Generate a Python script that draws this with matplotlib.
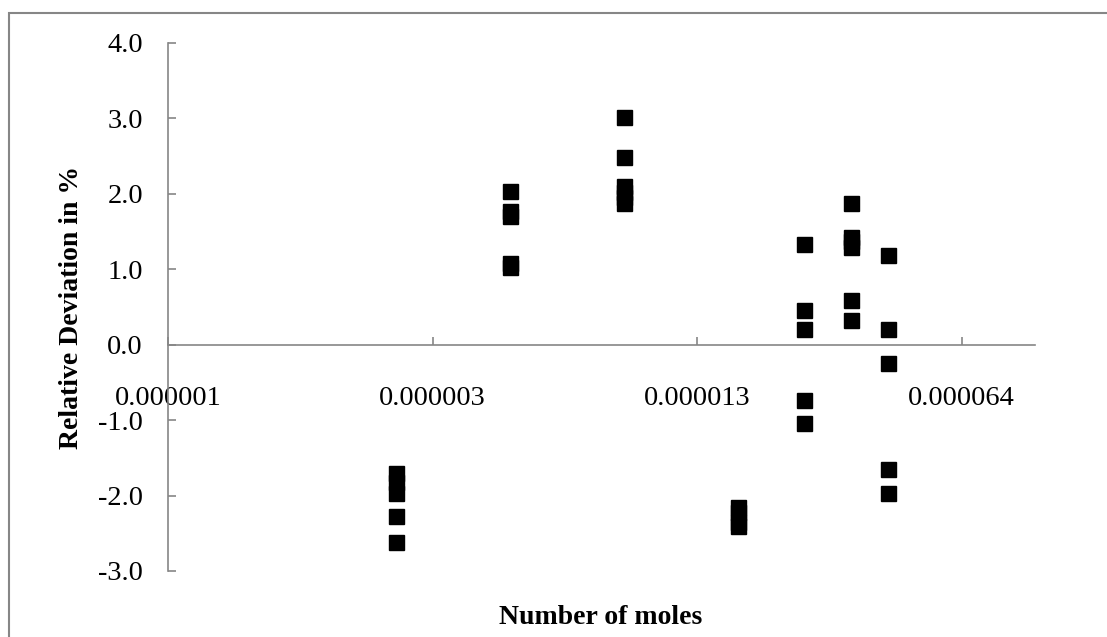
import matplotlib
matplotlib.use("Agg")
import matplotlib.pyplot as plt
from matplotlib.ticker import FixedLocator, FuncFormatter, NullLocator
from matplotlib.patches import Rectangle

# amount of substance (mol) for each measurement and its relative deviation (%)
x_moles = ([2.05e-6] * 5 + [4.1e-6] * 5 + [8.2e-6] * 6 + [16.4e-6] * 4
           + [24.5e-6] * 5 + [32.7e-6] * 6 + [41.0e-6] * 5)
rel_dev = [-1.70, -1.82, -1.97, -2.27, -2.61,
           2.03, 1.77, 1.71, 1.08, 1.03,
           3.01, 2.49, 2.10, 2.02, 1.95, 1.88,
           -2.15, -2.22, -2.35, -2.40,
           1.33, 0.46, 0.20, -0.74, -1.04,
           1.87, 1.42, 1.37, 1.29, 0.59, 0.33,
           1.19, 0.21, -0.25, -1.65, -1.97]

x_ticks = [0.512e-6, 2.56e-6, 12.8e-6, 64e-6]
y_ticks = [-3, -2, -1, 0, 1, 2, 3, 4]

plt.rcParams['font.family'] = ['Liberation Serif', 'DejaVu Serif']
plt.rcParams['axes.unicode_minus'] = False

fig = plt.figure(figsize=(11.07, 6.37), dpi=100)
ax = fig.add_axes([168 / 1107, 1 - 571 / 637, (1035 - 168) / 1107, (571 - 42.7) / 637])

ax.plot(x_moles, rel_dev, ls='none', marker='s', ms=10.8, color='black')

grey = '#868686'
ax.set_xscale('log', base=5)
ax.set_xlim(0.512e-6, 1e-4)
ax.set_ylim(-3, 4)
ax.xaxis.set_major_locator(FixedLocator(x_ticks))
ax.xaxis.set_minor_locator(NullLocator())
ax.xaxis.set_major_formatter(FuncFormatter(lambda v, p: f"{v:.6f}"))
ax.set_yticks(y_ticks)
ax.yaxis.set_major_formatter(FuncFormatter(lambda v, p: f"{v:.1f}"))

for s in ('top', 'right'):
    ax.spines[s].set_visible(False)
ax.spines['bottom'].set_position(('data', 0))
for s in ('left', 'bottom'):
    ax.spines[s].set_color(grey)
    ax.spines[s].set_linewidth(1.2)

ax.tick_params(axis='x', direction='in', length=6, width=1.2, color=grey,
               labelsize=20.5, pad=30)
ax.tick_params(axis='y', direction='in', length=6, width=1.2, color=grey,
               labelsize=20.5, pad=18)

fig.text(72 / 1107, 1 - 307 / 637, "Relative Deviation in %", fontsize=20,
         fontweight='bold', rotation=90, ha='center', va='center')
fig.text(601 / 1107, 1 - 617 / 637, "Number of moles", fontsize=20,
         fontweight='bold', ha='center', va='center')

# chart frame
fig.patches.append(Rectangle((9 / 1107, -0.05), 1.2, 1.05 - 13 / 637,
                             transform=fig.transFigure, fill=False,
                             edgecolor=grey, linewidth=1.5))

fig.savefig("out.png", dpi=100)
